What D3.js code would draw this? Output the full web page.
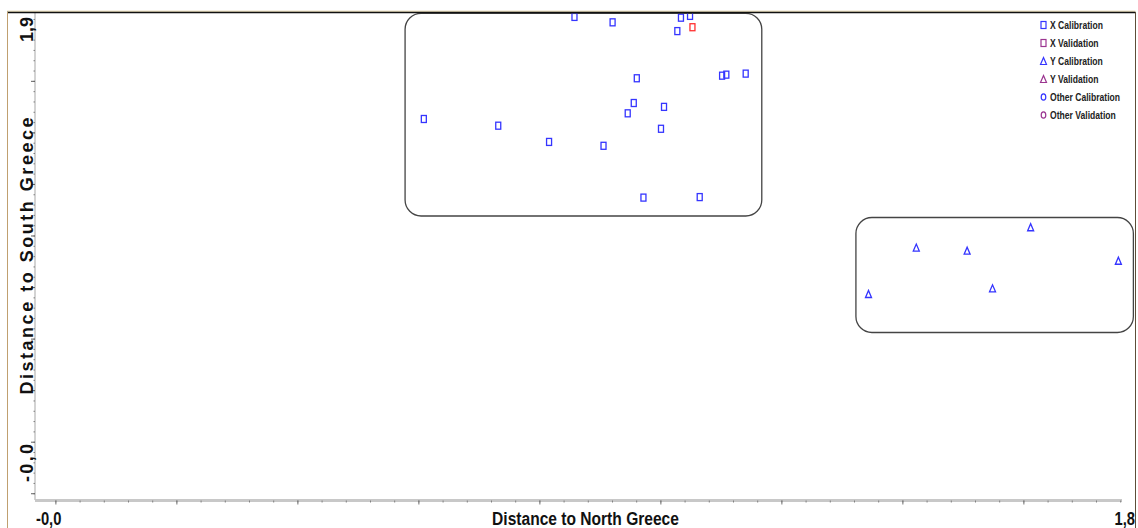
<!DOCTYPE html>
<html><head><meta charset="utf-8">
<script src="https://cdn.jsdelivr.net/npm/d3@7"></script>
<style>
html,body{margin:0;padding:0;background:#fff;}
svg{display:block;}
</style></head>
<body><svg id="chart" width="1138" height="528"></svg>
<script>
// Coomans-type plot: each sample's distance to the North Greece and South Greece class models

// X samples, calibration set
const xCalNorth = [0.858, 0.921, 1.034, 1.049, 1.028, 0.961, 1.102, 1.109, 1.141, 0.956,
                   1.006, 0.946, 0.609, 0.732, 1.001, 0.816, 0.906, 0.972, 1.065];
const xCalSouth = [1.848, 1.827, 1.845, 1.852, 1.793, 1.610, 1.620, 1.624, 1.628, 1.514,
                   1.499, 1.474, 1.452, 1.426, 1.414, 1.363, 1.348, 1.147, 1.149];
// X samples, validation set
const xValNorth = [1.053];
const xValSouth = [1.808];
// Y samples, calibration set
const yCalNorth = [1.344, 1.423, 1.507, 1.612, 1.757, 1.549];
const yCalSouth = [0.773, 0.953, 0.941, 1.032, 0.902, 0.795];

// Group outlines: [north min, north max, south min, south max]
const groupBoxes = [
  [0.578, 1.1676, 1.0757, 1.862],
  [1.3232, 1.7818, 0.6237, 1.0698]
];

const legendLabels = ["X Calibration", "X Validation", "Y Calibration",
                      "Y Validation", "Other Calibration", "Other Validation"];
const legendShapes = ["square", "square", "triangle", "triangle", "circle", "circle"];

const xDomain = [-0.0337, 1.763];
const yDomain = [-0.0262, 1.8632];
const xEndLabels = ["-0,0", "1,8"];
const yEndLabels = ["-0,0", "1,9"];
const xTitle = "Distance to North Greece";
const yTitle = "Distance to South Greece";

const svg = d3.select("#chart");
const calColor = "#3535ff", valColor = "#ff3030", valLegendColor = "#9b3590";
const font = "'Liberation Sans',Arial,sans-serif";

const x = d3.scaleLinear().domain(xDomain).range([35, 1122]);
const y = d3.scaleLinear().domain(yDomain).range([500, 13]);

// condensed bold text (horizontally compressed)
function narrowText(txt, px, py, size, anchor, sx) {
  return svg.append("text").text(txt)
    .attr("transform", `translate(${px},${py}) scale(${sx || 0.82},1)`)
    .attr("text-anchor", anchor || "start")
    .attr("font-family", font).attr("font-weight", "bold").attr("font-size", size).attr("fill", "#111");
}

// axes: minor ticks every 0.04, major every 0.2
const minorX = d3.range(0, 1.7601, 0.04), majorX = d3.range(0, 1.7601, 0.2);
const minorY = d3.range(0, 1.8601, 0.04), majorY = d3.range(0, 1.8601, 0.2);

const gx = svg.append("g").attr("transform", "translate(0,500.5)");
gx.append("line").attr("x1", x.range()[0]).attr("x2", x.range()[1])
  .attr("stroke", "#c8c8c8").attr("stroke-width", 3);
gx.append("g").call(d3.axisBottom(x).tickValues(minorX).tickSize(2).tickFormat(""))
  .call(g => g.select(".domain").remove())
  .selectAll("line").attr("stroke", "#808080");
gx.append("g").call(d3.axisBottom(x).tickValues(majorX).tickSize(4).tickFormat(""))
  .call(g => g.select(".domain").remove())
  .selectAll("line").attr("stroke", "#707070");

const gy = svg.append("g").attr("transform", "translate(35,0)");
gy.append("line").attr("y1", y.range()[0]).attr("y2", y.range()[1])
  .attr("stroke", "#c4c4c4").attr("stroke-width", 1.5);
gy.append("g").call(d3.axisLeft(y).tickValues(minorY).tickSize(1.5).tickFormat(""))
  .call(g => g.select(".domain").remove())
  .selectAll("line").attr("stroke", "#808080");
gy.append("g").call(d3.axisLeft(y).tickValues(majorY).tickSize(4).tickFormat(""))
  .call(g => g.select(".domain").remove())
  .selectAll("line").attr("stroke", "#606060");

// axis end labels and titles
narrowText(xEndLabels[0], x.range()[0] + 1, 525, 18, "start");
narrowText(xEndLabels[1], 1135, 525, 18, "end");
narrowText(xTitle, (x.range()[0] + x.range()[1]) / 2 + 7, 525, 19, "middle");

svg.append("text").text(yEndLabels[0])
  .attr("transform", `translate(33,${y.range()[0] - 18}) rotate(-90)`)
  .attr("textLength", 38).attr("lengthAdjust", "spacing")
  .attr("font-family", font).attr("font-weight", "bold").attr("font-size", 18).attr("fill", "#111");
svg.append("text").text(yEndLabels[1])
  .attr("transform", `translate(33,${y.range()[1] + 4}) rotate(-90)`).attr("text-anchor", "end")
  .attr("font-family", font).attr("font-weight", "bold").attr("font-size", 18).attr("fill", "#111");
svg.append("text").text(yTitle)
  .attr("transform", `translate(33,256) rotate(-90)`).attr("text-anchor", "middle")
  .attr("textLength", 277).attr("lengthAdjust", "spacing")
  .attr("font-family", font).attr("font-weight", "bold").attr("font-size", 18).attr("fill", "#111");

// group outlines
svg.append("g").selectAll("rect").data(groupBoxes).join("rect")
  .attr("x", d => x(d[0])).attr("y", d => y(d[3]))
  .attr("width", d => x(d[1]) - x(d[0])).attr("height", d => y(d[2]) - y(d[3]))
  .attr("rx", 16).attr("ry", 16)
  .attr("fill", "none").attr("stroke", "#444").attr("stroke-width", 1.3);

// markers
svg.append("clipPath").attr("id", "plotClip").append("rect")
  .attr("x", 35).attr("y", 13.5).attr("width", 1103).attr("height", 487);
const marks = svg.append("g").attr("clip-path", "url(#plotClip)");

function squares(nx, sy, color) {
  marks.append("g").selectAll("rect").data(d3.zip(nx, sy)).join("rect")
    .attr("x", d => x(d[0]) - 2.5).attr("y", d => y(d[1]) - 3.5)
    .attr("width", 5).attr("height", 7)
    .attr("fill", "none").attr("stroke", color).attr("stroke-width", 1.3);
}
function triPath(cx, cy) {
  return `M${cx - 3},${cy + 3.5}L${cx},${cy - 3.5}L${cx + 3},${cy + 3.5}Z`;
}
squares(xCalNorth, xCalSouth, calColor);
squares(xValNorth, xValSouth, valColor);
marks.append("g").selectAll("path").data(d3.zip(yCalNorth, yCalSouth)).join("path")
  .attr("d", d => triPath(x(d[0]), y(d[1])))
  .attr("fill", "none").attr("stroke", calColor).attr("stroke-width", 1.3);

// legend
const legend = svg.append("g");
legendLabels.forEach((label, i) => {
  const cy = 25 + i * 18, cx = 1043.5;
  const color = i % 2 === 0 ? calColor : valLegendColor;
  const shape = legendShapes[i];
  if (shape === "square") {
    legend.append("rect").attr("x", cx - 2.5).attr("y", cy - 3.5).attr("width", 5).attr("height", 7)
      .attr("fill", "none").attr("stroke", color).attr("stroke-width", 1.2);
  } else if (shape === "triangle") {
    legend.append("path").attr("d", triPath(cx, cy))
      .attr("fill", "none").attr("stroke", color).attr("stroke-width", 1.2);
  } else {
    legend.append("ellipse").attr("cx", cx).attr("cy", cy).attr("rx", 2.3).attr("ry", 3.2)
      .attr("fill", "none").attr("stroke", color).attr("stroke-width", 1.2);
  }
  narrowText(label, 1050, cy + 4, 11, "start", 0.78).attr("fill", "#222");
});

// frame
svg.append("line").attr("x1", 7).attr("x2", 1135.5).attr("y1", 11.2).attr("y2", 11.2)
  .attr("stroke", "#e0cfa0").attr("stroke-width", 1);
svg.append("line").attr("x1", 7).attr("x2", 1135.5).attr("y1", 12.5).attr("y2", 12.5)
  .attr("stroke", "#111").attr("stroke-width", 1.5);
svg.append("line").attr("x1", 7.5).attr("x2", 7.5).attr("y1", 12).attr("y2", 528)
  .attr("stroke", "#c0a070").attr("stroke-width", 1);
svg.append("line").attr("x1", 1135.5).attr("x2", 1135.5).attr("y1", 12).attr("y2", 528)
  .attr("stroke", "#5c4e38").attr("stroke-width", 1);
</script>
</body></html>
